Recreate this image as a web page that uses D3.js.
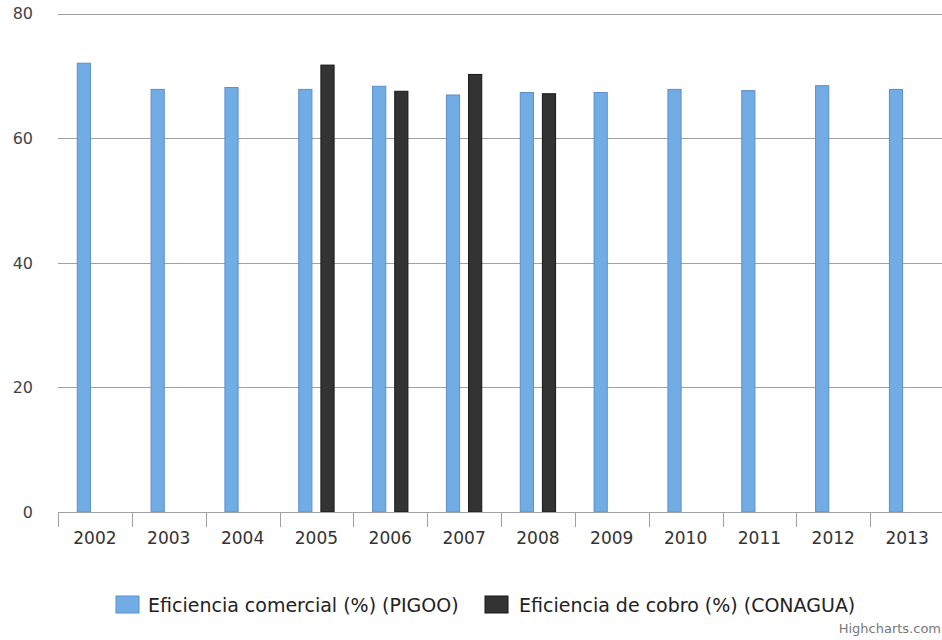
<!DOCTYPE html>
<html>
<head>
<meta charset="utf-8">
<script src="https://cdn.jsdelivr.net/npm/d3@7"></script>
<style>
  html, body { margin: 0; padding: 0; background: #fff; }
  svg { display: block; font-family: "DejaVu Sans", Verdana, sans-serif; }
</style>
</head>
<body>
<svg id="chart" width="942" height="640"></svg>
<script>
const categories = ["2002","2003","2004","2005","2006","2007","2008","2009","2010","2011","2012","2013"];
const seriesNames = ["Eficiencia comercial (%) (PIGOO)", "Eficiencia de cobro (%) (CONAGUA)"];
const pigoo   = [72.1, 67.9, 68.2, 67.9, 68.4, 67.0, 67.4, 67.4, 67.9, 67.7, 68.5, 67.9];
const conagua = [null, null, null, 71.8, 67.6, 70.3, 67.2, null, null, null, null, null];
const yTicks = [0, 20, 40, 60, 80];
const colors = ["#72ace5", "#333333"];
const strokes = ["#5b8fc6", "#161616"];

const svg = d3.select("#chart");
const plotLeft = 58, plotRight = 944, plotTop = 13.5, plotBottom = 512;

const x = d3.scaleBand().domain(categories).range([plotLeft, plotRight]).padding(0);
const bw = x.bandwidth();
const xInner = d3.scaleBand().domain([0, 1])
  .range([0.2 * bw, 0.8 * bw]).paddingInner(0.36).paddingOuter(0.18);
const y = d3.scaleLinear().domain([0, 80]).range([plotBottom, plotTop]);

// grid lines
svg.append("g").selectAll("line").data(yTicks.filter(d => d > 0)).join("line")
  .attr("x1", plotLeft).attr("x2", 942)
  .attr("y1", d => Math.round(y(d)) + 0.5).attr("y2", d => Math.round(y(d)) + 0.5)
  .attr("stroke", "#a0a0a0").attr("stroke-width", 1.2);

// y labels
svg.append("g").selectAll("text").data(yTicks).join("text")
  .attr("x", 33).attr("y", d => y(d))
  .attr("dy", "0.36em")
  .attr("text-anchor", "end")
  .attr("font-size", 16).attr("fill", "#444")
  .text(d => d);

// bars
const series = [pigoo, conagua];
series.forEach((vals, si) => {
  svg.append("g").selectAll("rect")
    .data(categories.map((c, i) => ({c, v: vals[i]})).filter(d => d.v != null))
    .join("rect")
    .attr("x", d => x(d.c) + xInner(si) + 0.5)
    .attr("width", xInner.bandwidth() - 1)
    .attr("y", d => y(d.v) + 0.5)
    .attr("height", d => plotBottom - y(d.v) - 0.5)
    .attr("fill", colors[si])
    .attr("stroke", strokes[si])
    .attr("stroke-width", 1);
});

// x axis
const gx = svg.append("g").attr("transform", `translate(0,${plotBottom})`);
gx.append("line").attr("x1", plotLeft).attr("x2", 942).attr("y1", 0.5).attr("y2", 0.5)
  .attr("stroke", "#a0a0a0");
gx.selectAll("line.tick").data(categories).join("line").attr("class", "tick")
  .attr("x1", d => Math.round(x(d)) + 0.5).attr("x2", d => Math.round(x(d)) + 0.5)
  .attr("y1", 0).attr("y2", 15).attr("stroke", "#a0a0a0");
gx.selectAll("text.lab").data(categories).join("text").attr("class", "lab")
  .attr("x", d => x(d) + bw / 2).attr("y", 26).attr("dy", "0.36em")
  .attr("text-anchor", "middle").attr("font-size", 17).attr("fill", "#333")
  .text(d => d);

// legend
const legendItems = [{name: seriesNames[0], sx: 116, tx: 148}, {name: seriesNames[1], sx: 485, tx: 519}];
const lg = svg.append("g");
legendItems.forEach((it, i) => {
  lg.append("rect").attr("x", it.sx).attr("y", 596).attr("width", 23).attr("height", 17)
    .attr("fill", colors[i]).attr("stroke", strokes[i]).attr("stroke-width", 1);
  lg.append("text").attr("x", it.tx).attr("y", 605).attr("dy", "0.36em")
    .attr("font-size", 19).attr("fill", "#222").text(it.name);
});

// credits
svg.append("text").attr("x", 941).attr("y", 628).attr("dy", "0.36em")
  .attr("text-anchor", "end").attr("font-size", 13).attr("fill", "#777")
  .text("Highcharts.com");
</script>
</body>
</html>
